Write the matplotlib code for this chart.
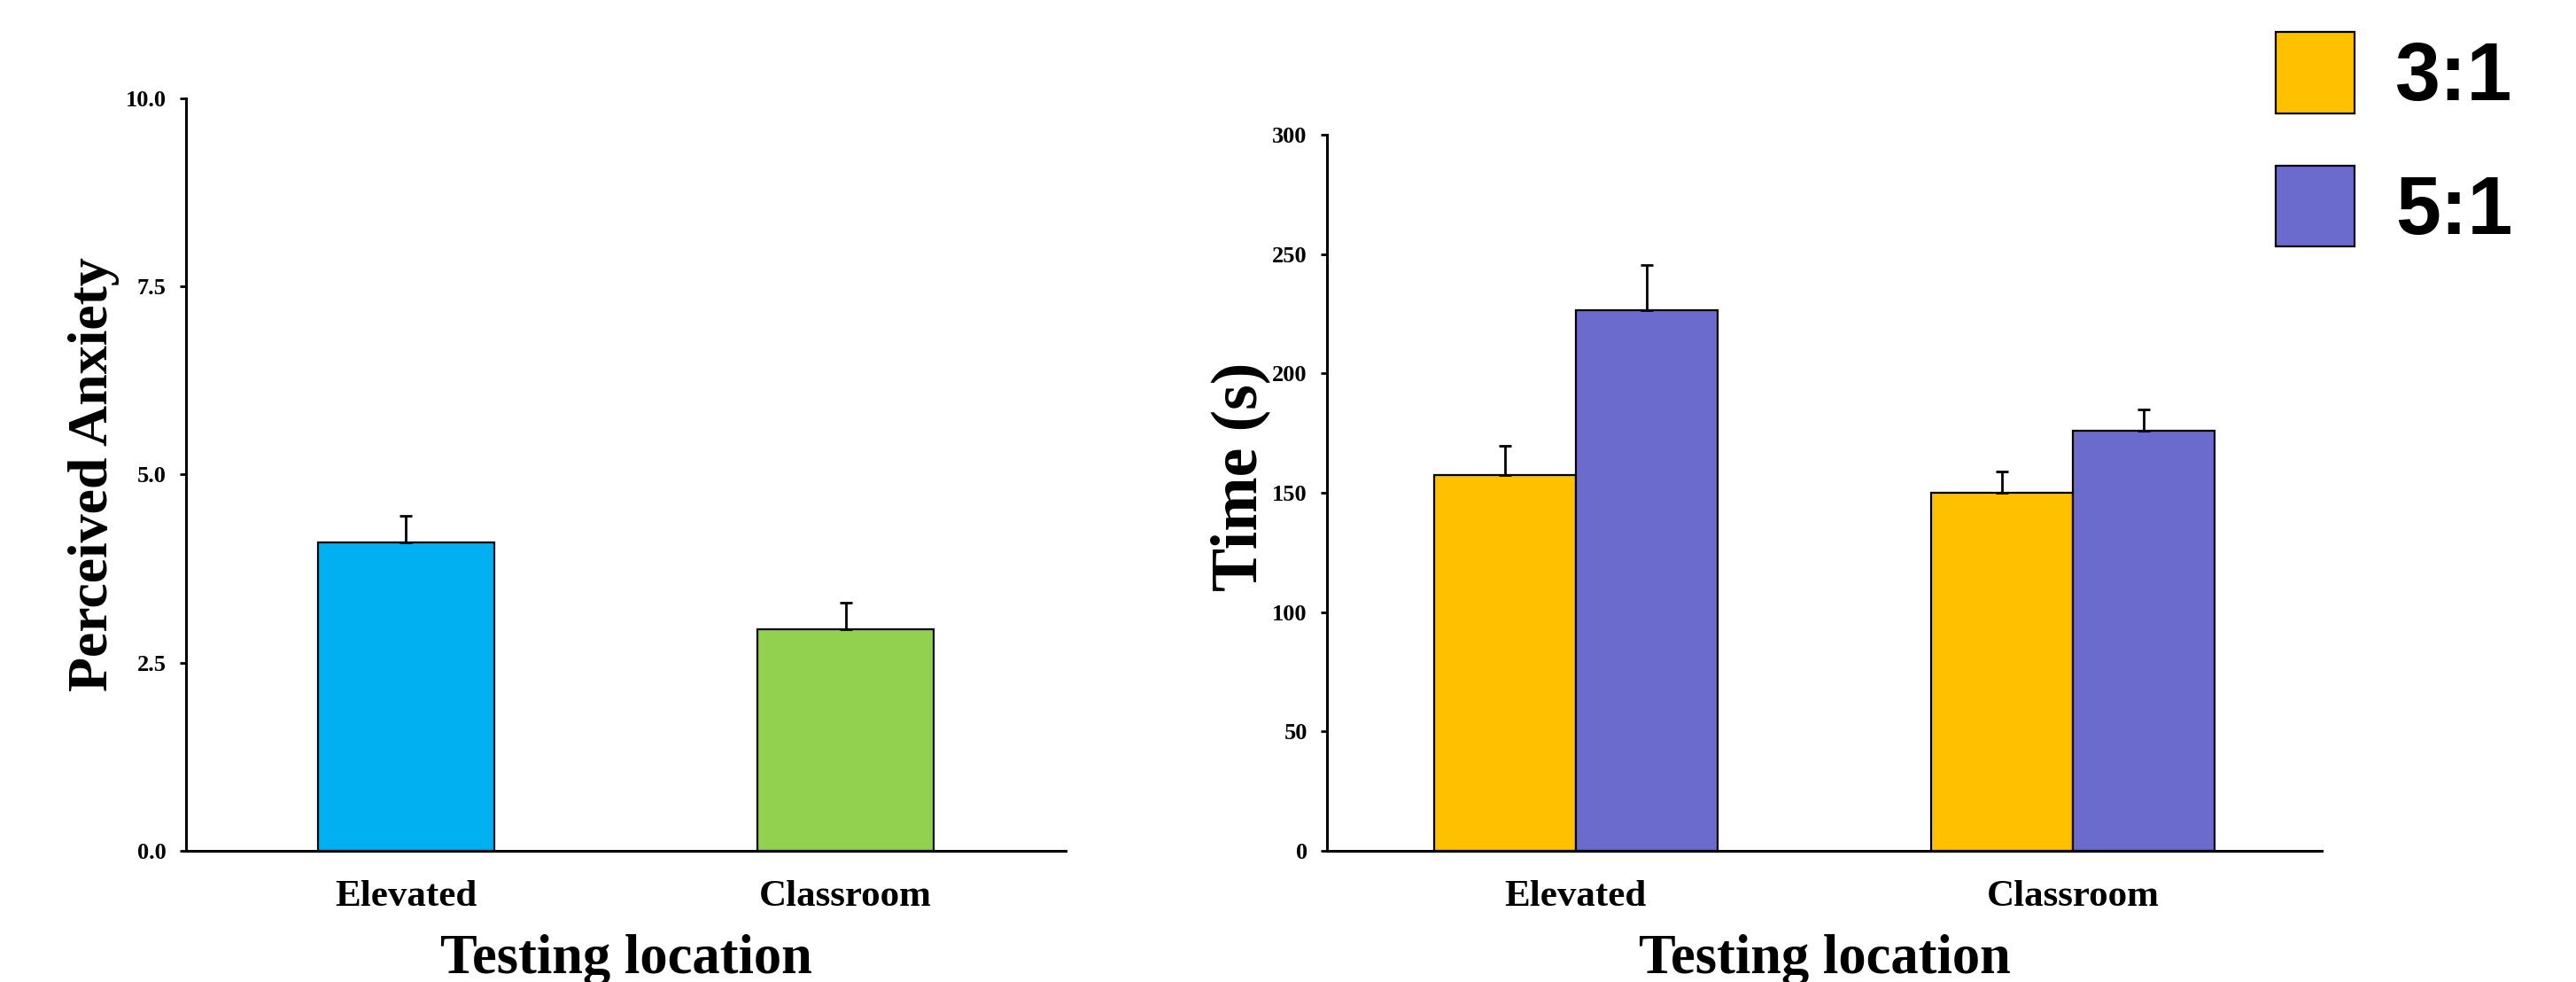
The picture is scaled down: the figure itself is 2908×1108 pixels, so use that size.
import numpy as np
import matplotlib
matplotlib.use("Agg")
import matplotlib.pyplot as plt

# data
locations = ["Elevated", "Classroom"]

anxiety_mean = [4.10, 2.95]
anxiety_err = [0.35, 0.35]
anxiety_colors = ["#00B0F0", "#92D050"]

ratio_labels = ["3:1", "5:1"]
time_31 = [157.5, 150.0]
time_31_err = [12.0, 9.0]
time_51 = [226.5, 176.0]
time_51_err = [19.0, 9.0]
ratio_colors = ["#FFC000", "#6B6BCD"]

SERIF = "Liberation Serif"
SANS = "Liberation Sans"

plt.rcParams["font.family"] = [SERIF, "DejaVu Serif"]
plt.rcParams["font.weight"] = "bold"


def style_axis(ax, tick_size):
    for side in ("top", "right"):
        ax.spines[side].set_visible(False)
    for side in ("left", "bottom"):
        ax.spines[side].set_linewidth(2.2)
    ax.tick_params(axis="y", length=5, width=2, pad=11, labelsize=tick_size)
    ax.tick_params(axis="x", length=0, pad=24, labelsize=31)
    for lbl in ax.get_xticklabels() + ax.get_yticklabels():
        lbl.set_fontweight("bold")


fig = plt.figure(figsize=(29.08, 11.08), dpi=100)
ax1 = fig.add_axes([0.0722, 0.1336, 0.3415, 0.7662])
ax2 = fig.add_axes([0.5151, 0.1336, 0.3862, 0.7292])

err_kw = dict(ecolor="black", elinewidth=2, capsize=5, capthick=2)

# ---- left panel: perceived anxiety ----
x = np.arange(len(locations))
ax1.bar(x, anxiety_mean, width=0.4, color=anxiety_colors,
        edgecolor="black", linewidth=1.6,
        yerr=[np.zeros(len(x)), anxiety_err], error_kw=err_kw)
ax1.set_xlim(-0.5, 1.5)
ax1.set_ylim(0, 10)
ax1.set_yticks([0, 2.5, 5, 7.5, 10])
ax1.set_yticklabels([f"{v:.1f}" for v in [0, 2.5, 5, 7.5, 10]])
ax1.set_xticks(x)
ax1.set_xticklabels(locations)
style_axis(ax1, 19)
ax1.set_ylabel("Perceived Anxiety", fontsize=46, fontweight="bold")
ax1.yaxis.set_label_coords(-0.0755, 0.5)
ax1.set_xlabel("Testing location", fontsize=45, fontweight="bold", labelpad=16)

# ---- right panel: time by ratio ----
w = 0.285
ax2.bar(x - w / 2, time_31, width=w, color=ratio_colors[0],
        edgecolor="black", linewidth=1.6, label=ratio_labels[0],
        yerr=[np.zeros(len(x)), time_31_err], error_kw=err_kw)
ax2.bar(x + w / 2, time_51, width=w, color=ratio_colors[1],
        edgecolor="black", linewidth=1.6, label=ratio_labels[1],
        yerr=[np.zeros(len(x)), time_51_err], error_kw=err_kw)
ax2.set_xlim(-0.5, 1.5)
ax2.set_ylim(0, 300)
ax2.set_yticks(np.arange(0, 301, 50))
ax2.set_xticks(x)
ax2.set_xticklabels(locations)
style_axis(ax2, 19)
ax2.set_ylabel("Time (s)", fontsize=53, fontweight="bold")
ax2.yaxis.set_label_coords(-0.057, 0.522)
ax2.set_xlabel("Testing location", fontsize=45, fontweight="bold", labelpad=16)

# legend in the top right corner of the figure
fig.legend(loc="upper left", bbox_to_anchor=(2569 / 2908, 1 - 36 / 1108),
           frameon=False, borderpad=0, borderaxespad=0,
           handlelength=0.97, handleheight=1.16, handletextpad=0.5,
           labelspacing=0.6,
           prop=dict(family=SANS, weight="bold", size=66))

fig.savefig("out.png", dpi=100)
